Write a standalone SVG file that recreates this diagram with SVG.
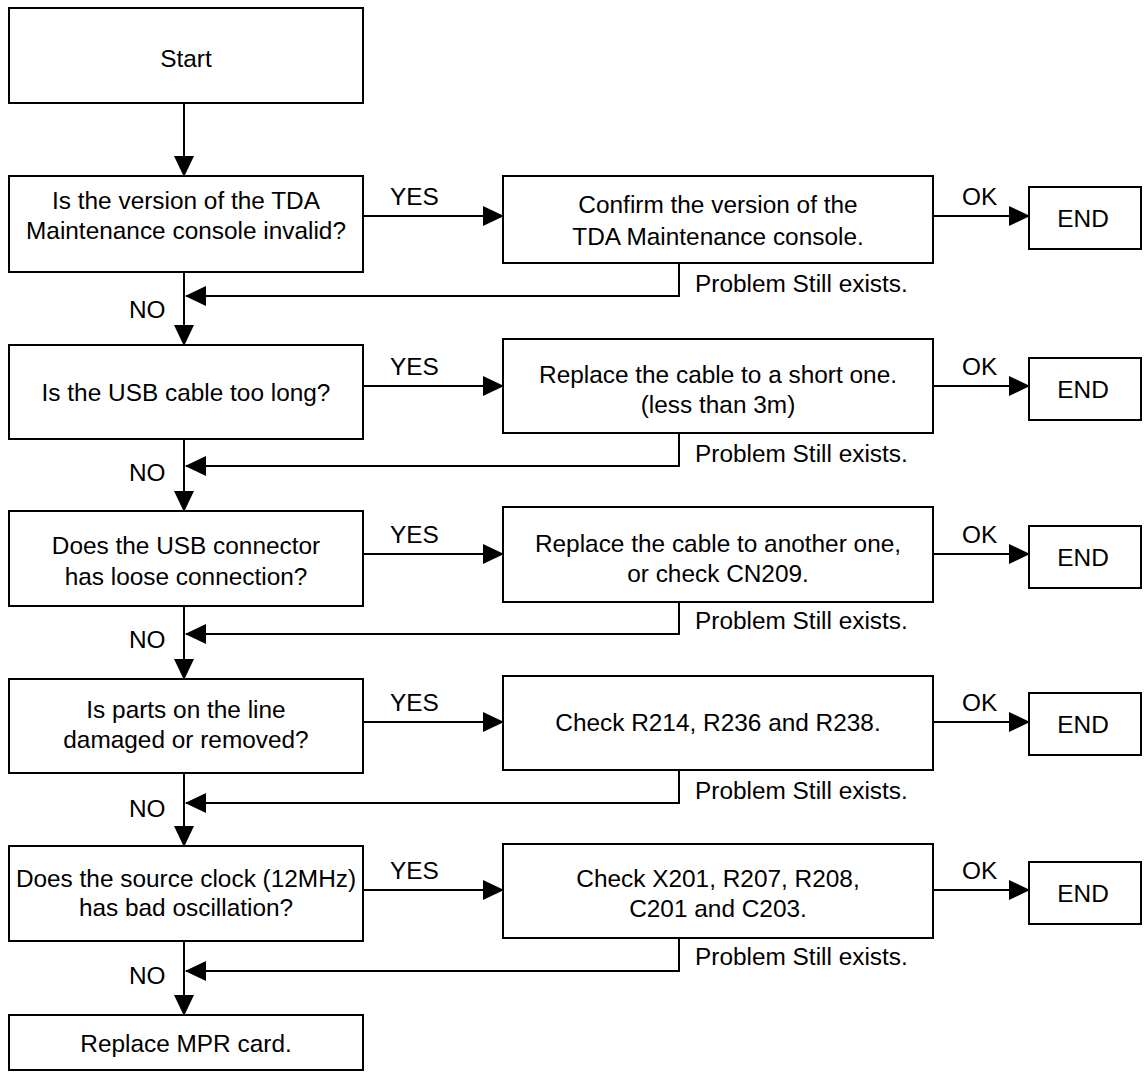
<svg xmlns="http://www.w3.org/2000/svg" width="1144" height="1072" viewBox="0 0 1144 1072">
<style>
.b{fill:#fff;stroke:#000;stroke-width:2}
text{font-family:"Liberation Sans",Arial,Helvetica,sans-serif;font-size:24.4px;fill:#000}
.c{text-anchor:middle}
.ln{fill:none;stroke:#000;stroke-width:2}
</style>
<defs>
<marker id="ah" viewBox="0 0 21 20" refX="20" refY="10" markerWidth="21" markerHeight="20" markerUnits="userSpaceOnUse" orient="auto">
<path d="M0,0 L21,10 L0,20 z" fill="#000"/>
</marker>
</defs>
<rect width="1144" height="1072" fill="#fff"/>
<g id="start"><rect class="b" x="9" y="8" width="354" height="95"/><text class="c" x="186" y="67">Start</text></g>
<g id="q1"><rect class="b" x="9" y="176" width="354" height="96"/><text class="c" x="186" y="209">Is the version of the TDA</text><text class="c" x="186" y="239">Maintenance console invalid?</text></g>
<g id="a1"><rect class="b" x="503" y="176" width="430" height="87"/><text class="c" x="718" y="213">Confirm the version of the</text><text class="c" x="718" y="245">TDA Maintenance console.</text></g>
<g id="end1"><rect class="b" x="1029" y="187" width="112" height="62"/><text class="c" x="1083" y="227">END</text></g>
<g id="q2"><rect class="b" x="9" y="345" width="354" height="94"/><text class="c" x="186" y="401">Is the USB cable too long?</text></g>
<g id="a2"><rect class="b" x="503" y="339" width="430" height="94"/><text class="c" x="718" y="383">Replace the cable to a short one.</text><text class="c" x="718" y="413">(less than 3m)</text></g>
<g id="end2"><rect class="b" x="1029" y="358" width="112" height="62"/><text class="c" x="1083" y="398">END</text></g>
<g id="q3"><rect class="b" x="9" y="511" width="354" height="95"/><text class="c" x="186" y="554">Does the USB connector</text><text class="c" x="186" y="585">has loose connection?</text></g>
<g id="a3"><rect class="b" x="503" y="507" width="430" height="95"/><text class="c" x="718" y="552">Replace the cable to another one,</text><text class="c" x="718" y="582">or check CN209.</text></g>
<g id="end3"><rect class="b" x="1029" y="526" width="112" height="62"/><text class="c" x="1083" y="566">END</text></g>
<g id="q4"><rect class="b" x="9" y="679" width="354" height="94"/><text class="c" x="186" y="718">Is parts on the line</text><text class="c" x="186" y="748">damaged or removed?</text></g>
<g id="a4"><rect class="b" x="503" y="676" width="430" height="94"/><text class="c" x="718" y="731">Check R214, R236 and R238.</text></g>
<g id="end4"><rect class="b" x="1029" y="693" width="112" height="62"/><text class="c" x="1083" y="733">END</text></g>
<g id="q5"><rect class="b" x="9" y="846" width="354" height="95"/><text class="c" x="186" y="887">Does the source clock (12MHz)</text><text class="c" x="186" y="916">has bad oscillation?</text></g>
<g id="a5"><rect class="b" x="503" y="844" width="430" height="94"/><text class="c" x="718" y="887">Check X201, R207, R208,</text><text class="c" x="718" y="917">C201 and C203.</text></g>
<g id="end5"><rect class="b" x="1029" y="862" width="112" height="62"/><text class="c" x="1083" y="902">END</text></g>
<g id="final"><rect class="b" x="9" y="1015" width="354" height="55"/><text class="c" x="186" y="1052">Replace MPR card.</text></g>
<g id="connectors">
<path class="ln" d="M184,103 V176" marker-end="url(#ah)"/>
<path class="ln" d="M184,272 V345" marker-end="url(#ah)"/>
<path class="ln" d="M184,439 V511" marker-end="url(#ah)"/>
<path class="ln" d="M184,606 V679" marker-end="url(#ah)"/>
<path class="ln" d="M184,773 V846" marker-end="url(#ah)"/>
<path class="ln" d="M184,941 V1015" marker-end="url(#ah)"/>
<path class="ln" d="M363,216 H503" marker-end="url(#ah)"/>
<path class="ln" d="M363,386 H503" marker-end="url(#ah)"/>
<path class="ln" d="M363,554 H503" marker-end="url(#ah)"/>
<path class="ln" d="M363,722 H503" marker-end="url(#ah)"/>
<path class="ln" d="M363,890 H503" marker-end="url(#ah)"/>
<path class="ln" d="M933,216 H1029" marker-end="url(#ah)"/>
<path class="ln" d="M933,386 H1029" marker-end="url(#ah)"/>
<path class="ln" d="M933,554 H1029" marker-end="url(#ah)"/>
<path class="ln" d="M933,722 H1029" marker-end="url(#ah)"/>
<path class="ln" d="M933,890 H1029" marker-end="url(#ah)"/>
<path class="ln" d="M679,263 V296 H186" marker-end="url(#ah)"/>
<path class="ln" d="M679,433 V466 H186" marker-end="url(#ah)"/>
<path class="ln" d="M679,602 V634 H186" marker-end="url(#ah)"/>
<path class="ln" d="M679,770 V803 H186" marker-end="url(#ah)"/>
<path class="ln" d="M679,938 V971 H186" marker-end="url(#ah)"/>
<text x="390" y="205">YES</text><text x="390" y="375">YES</text><text x="390" y="543">YES</text><text x="390" y="711">YES</text><text x="390" y="879">YES</text>
<text x="962" y="205">OK</text><text x="962" y="375">OK</text><text x="962" y="543">OK</text><text x="962" y="711">OK</text><text x="962" y="879">OK</text>
<text x="695" y="292">Problem Still exists.</text><text x="695" y="462">Problem Still exists.</text><text x="695" y="629">Problem Still exists.</text><text x="695" y="799">Problem Still exists.</text><text x="695" y="965">Problem Still exists.</text>
<text x="129" y="318">NO</text><text x="129" y="481">NO</text><text x="129" y="648">NO</text><text x="129" y="817">NO</text><text x="129" y="984">NO</text>
</g>
</svg>
